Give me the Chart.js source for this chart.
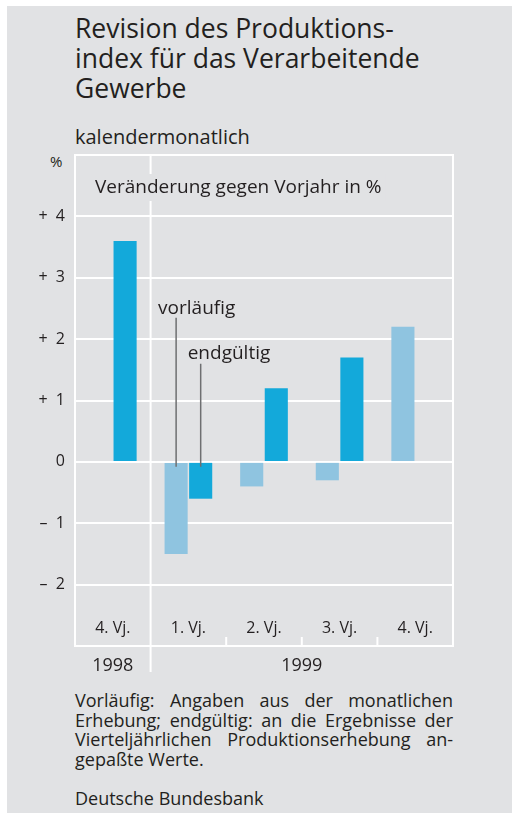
<!DOCTYPE html>
<html>
<head>
<meta charset="utf-8">
<script src="https://cdn.jsdelivr.net/npm/chart.js@4.4.1/dist/chart.umd.min.js"></script>
<style>
  body { margin: 0; background: #fff; width: 512px; height: 813px; overflow: hidden; }
  #panel { position: absolute; left: 7px; top: 6px; width: 505px; height: 807px; background: #e1e2e4; }
  .txt { position: absolute; color: #231f20; font-family: 'Open Sans', sans-serif; white-space: nowrap; }
  #title { left: 75px; top: 13px; font-size: 26.5px; line-height: 30px; }
  #sub { left: 75px; top: 124px; font-size: 20px; line-height: 26px; }
  #pct { left: 50px; top: 151px; font-size: 15px; line-height: 20px; }
  #note { left: 75px; top: 691px; width: 378px; font-size: 18px; line-height: 19.7px; white-space: normal; }
  #note div { text-align: justify; text-align-last: justify; }
  #note div.last { text-align-last: left; }
  #src { left: 75px; top: 789px; font-size: 18px; line-height: 19.7px; }
  #wrap { position: absolute; left: 7px; top: 150px; width: 505px; height: 530px; }
</style>
</head>
<body>
<div id="panel"></div>
<div class="txt" id="title">Revision des Produktions-<br>index für das Verarbeitende<br>Gewerbe</div>
<div class="txt" id="sub">kalendermonatlich</div>
<div class="txt" id="pct">%</div>
<div id="wrap"><canvas id="chart" width="505" height="530"></canvas></div>
<div class="txt" id="note">
  <div>Vorläufig: Angaben aus der monatlichen</div>
  <div>Erhebung; endgültig: an die Ergebnisse der</div>
  <div>Vierteljährlichen Produktionserhebung an-</div>
  <div class="last">gepaßte Werte.</div>
</div>
<div class="txt" id="src">Deutsche Bundesbank</div>
<script>
// quarters and years
const quarters = ['4. Vj.', '1. Vj.', '2. Vj.', '3. Vj.', '4. Vj.'];
const years = ['1998', '1999'];

// Veränderung gegen Vorjahr in %
const vorlaeufig = [null, -1.5, -0.4, -0.3, 2.2];
const endgueltig = [3.6, -0.6, 1.2, 1.7, null];

// y ticks
const tickValues = [-2, -1, 0, 1, 2, 3, 4];
const tickLabels = ['–  2', '–  1', '0', '+  1', '+  2', '+  3', '+  4'];

const ink = '#231f20';
const bg = '#e1e2e4';
const fontFam = "'Open Sans', sans-serif";

Chart.defaults.font.family = fontFam;
Chart.defaults.color = ink;

const decor = {
    id: 'decor',
    beforeDatasetsDraw(chart) {
        const ctx = chart.ctx;
        const a = chart.chartArea;
        const x = chart.scales.x;
        const step = x.getPixelForValue(1) - x.getPixelForValue(0);
        ctx.save();
        ctx.strokeStyle = '#ffffff';
        ctx.lineWidth = 2;
        // right frame
        ctx.beginPath();
        ctx.moveTo(a.right, a.top - 1);
        ctx.lineTo(a.right, a.bottom + 1);
        ctx.stroke();
        // year separator
        const sep = x.getPixelForValue(0) + step / 2;
        ctx.beginPath();
        ctx.moveTo(sep, a.top);
        ctx.lineTo(sep, a.bottom + 26);
        ctx.stroke();
        // quarter ticks
        for (let i = 1; i < quarters.length - 1; i++) {
            const px = x.getPixelForValue(i) + step / 2;
            ctx.beginPath();
            ctx.moveTo(px, a.bottom - 9);
            ctx.lineTo(px, a.bottom);
            ctx.stroke();
        }
        // heading inside the plot
        ctx.font = '19px ' + fontFam;
        const head = 'Veränderung gegen Vorjahr in %';
        const w = ctx.measureText(head).width;
        ctx.fillStyle = bg;
        ctx.fillRect(a.left + 18, a.top + 19, w + 6, 27);
        ctx.fillStyle = ink;
        ctx.textBaseline = 'middle';
        ctx.fillText(head, a.left + 20, a.top + 33);
        ctx.restore();
    },
    afterDatasetsDraw(chart) {
        const ctx = chart.ctx;
        const a = chart.chartArea;
        const x = chart.scales.x;
        const y = chart.scales.y;
        ctx.save();
        ctx.fillStyle = ink;
        ctx.textBaseline = 'middle';
        ctx.textAlign = 'center';
        ctx.font = '16px ' + fontFam;
        quarters.forEach((q, i) => {
            ctx.fillText(q, x.getPixelForValue(i), a.bottom - 18);
        });
        ctx.font = '18px ' + fontFam;
        ctx.fillText(years[0], x.getPixelForValue(0), a.bottom + 20);
        ctx.fillText(years[1], (x.getPixelForValue(1) + x.getPixelForValue(quarters.length - 1)) / 2, a.bottom + 20);

        // leader lines for the legend labels
        const vBar = chart.getDatasetMeta(0).data[1];
        const eBar = chart.getDatasetMeta(1).data[1];
        ctx.strokeStyle = '#6e6f71';
        ctx.lineWidth = 1.5;
        ctx.beginPath();
        ctx.moveTo(vBar.x, y.getPixelForValue(2.35));
        ctx.lineTo(vBar.x, y.getPixelForValue(-0.08));
        ctx.moveTo(eBar.x, y.getPixelForValue(1.6));
        ctx.lineTo(eBar.x, y.getPixelForValue(-0.08));
        ctx.stroke();
        ctx.textAlign = 'left';
        ctx.font = '19px ' + fontFam;
        ctx.fillText('vorläufig', vBar.x - 18, y.getPixelForValue(2.5));
        ctx.fillText('endgültig', eBar.x - 13, y.getPixelForValue(1.77));
        ctx.restore();
    }
};

new Chart(document.getElementById('chart'), {
    type: 'bar',
    data: {
        labels: quarters,
        datasets: [
            { label: 'vorläufig', data: vorlaeufig, backgroundColor: '#8fc4e0' },
            { label: 'endgültig', data: endgueltig, backgroundColor: '#13a9da' }
        ]
    },
    options: {
        responsive: false,
        animation: false,
        events: [],
        categoryPercentage: 0.65,
        barPercentage: 0.94,
        layout: { padding: { top: 5, right: 59, bottom: 34, left: 0 } },
        plugins: { legend: { display: false }, tooltip: { enabled: false } },
        scales: {
            x: { display: false },
            y: {
                min: -3,
                max: 5,
                afterFit: (s) => {
                    s.width = 68;
                    s.paddingTop = 0;
                    s.paddingBottom = 0;
                },
                afterBuildTicks: (s) => {
                    s.ticks = [-3, ...tickValues, 5].map(v => ({ value: v }));
                },
                grid: { color: '#ffffff', lineWidth: 2, drawTicks: false },
                border: { color: '#ffffff', width: 2 },
                ticks: {
                    padding: 10,
                    font: { size: 16 },
                    color: ink,
                    callback: (v) => {
                        const i = tickValues.indexOf(v);
                        return i >= 0 ? tickLabels[i] : '';
                    }
                }
            }
        }
    },
    plugins: [decor]
});
</script>
</body>
</html>
